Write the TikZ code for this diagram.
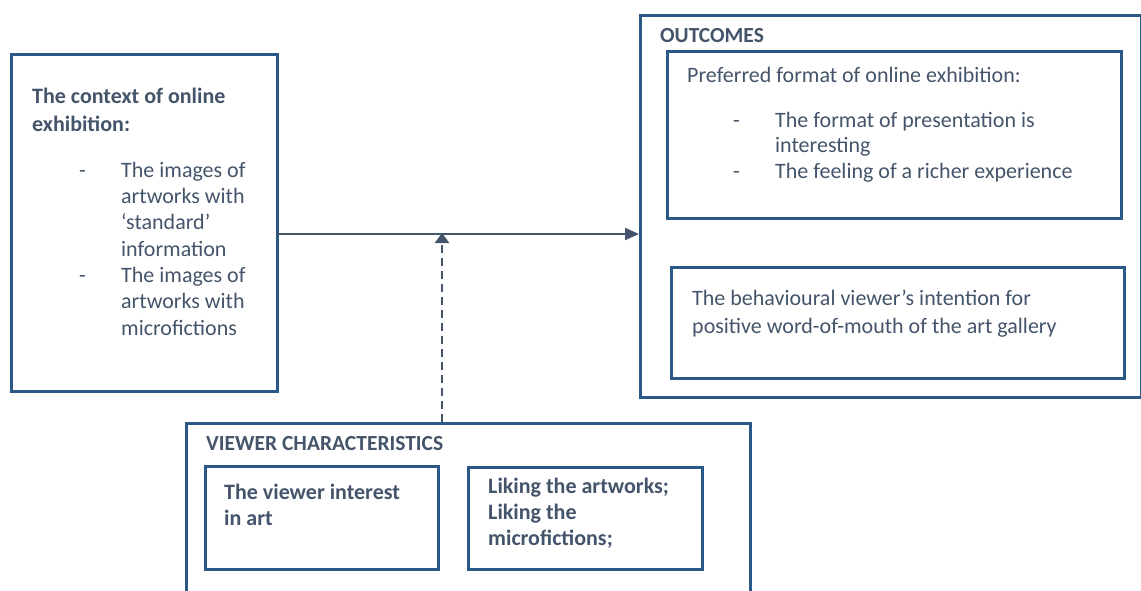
\documentclass[tikz,border=0pt]{standalone}
\usepackage{fontspec}
\setmainfont{Carlito}
\usetikzlibrary{arrows.meta,positioning}
\definecolor{frame}{HTML}{2B5987}
\definecolor{ink}{HTML}{44546A}
\newcommand{\dashitem}[1]{\makebox[42pt][l]{-}#1}
\newcommand{\hang}{\hspace*{42pt}}
\tikzset{
  box/.style={draw=frame,line width=3.2pt,inner sep=0pt,anchor=north west},
  txt/.style={font=\fontsize{22}{26.3}\selectfont,text=ink,align=left,inner sep=0pt,anchor=base west},
  txtb/.style={txt,font=\fontsize{22}{28}\selectfont\bfseries},
  head/.style={txt,font=\fontsize{21.5}{24}\selectfont\bfseries},
  arr/.style={-{Triangle[length=14pt,width=12pt]},line width=2pt,draw=ink},
  arrd/.style={arr,-{Triangle[length=10pt,width=14pt]},line width=2.6pt,dash pattern=on 8pt off 5pt},
}
\begin{document}
\begin{tikzpicture}[x=1pt,y=-1pt]
\useasboundingbox (0,0) rectangle (1141,590);
\node[box,minimum width=266pt,minimum height=337pt] (ctx) at (10,53) {};
\node[box,minimum width=501pt,minimum height=382pt] (outc) at (639,14) {};
\node[box,minimum width=454pt,minimum height=167pt] (fmt) at (666,50) {};
\node[box,minimum width=453pt,minimum height=111pt] (wom) at (670,266) {};
\node[box,minimum width=564pt,minimum height=190pt] (vc) at (185,422) {};
\node[box,minimum width=233pt,minimum height=103pt] (intr) at (204,465) {};
\node[box,minimum width=234pt,minimum height=102pt] (like) at (467,466) {};
\node[txtb] (ctxhead) at (32,131) {The context of online\\exhibition:};
\node[txt] (ctxlist) at (79,335) {\dashitem{The images of}\\\hang artworks with\\\hang `standard'\\\hang information\\
  \dashitem{The images of}\\\hang artworks with\\\hang microfictions};
\node[head] (outhead) at (660,42) {OUTCOMES};
\node[txt] (fmthead) at (687,82) {Preferred format of online exhibition:};
\node[txt,font=\fontsize{22}{25.5}\selectfont] (fmtlist) at (733,178) {\dashitem{The format of presentation is}\\\hang interesting\\
  \dashitem{The feeling of a richer experience}};
\node[txt,font=\fontsize{22}{27.5}\selectfont] (womtxt) at (692,333) {The behavioural viewer’s intention for\\positive word-of-mouth of the art gallery};
\node[head] (vchead) at (206,450) {VIEWER CHARACTERISTICS};
\node[txtb,font=\fontsize{22}{25.5}\selectfont\bfseries] (intrtxt) at (224,525) {The viewer interest\\in art};
\node[txtb,font=\fontsize{22}{26}\selectfont\bfseries] (liketxt) at (488,545) {Liking the artworks;\\Liking the\\microfictions;};
\coordinate (join) at (442,234);
\draw[arr] ([xshift=-3pt]ctx.east |- join) -- (outc.west |- join);
\draw[arrd] (vc.north -| join) -- ([yshift=1pt]join);
\end{tikzpicture}
\end{document}
